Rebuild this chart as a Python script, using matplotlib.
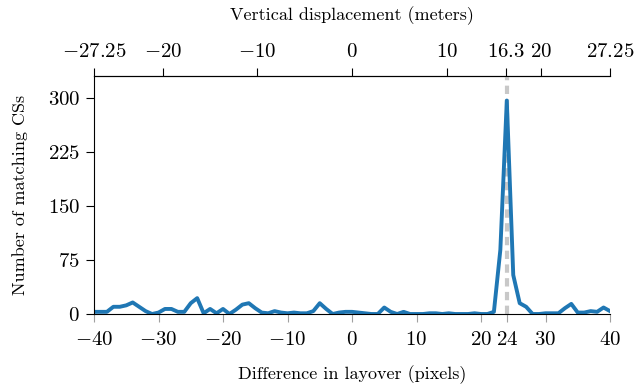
import numpy as np
import matplotlib
matplotlib.use('Agg')
import matplotlib.pyplot as plt

plt.rcParams['font.family'] = 'serif'
plt.rcParams['font.serif'] = ['cmr10']
plt.rcParams['mathtext.fontset'] = 'cm'
plt.rcParams['axes.unicode_minus'] = False

# layover difference in pixels, -40..40
offsets = list(range(-40, 41))
counts = [3, 3, 3, 10, 10, 12, 16, 10, 4, 0,
          2, 7, 7, 3, 3, 15, 22, 1, 7, 1,
          7, 0, 6, 13, 15, 8, 2, 1, 4, 2,
          1, 2, 1, 1, 4, 15, 7, 0, 2, 3,
          3, 2, 1, 0, 0, 9, 3, 0, 3, 0,
          0, 0, 1, 1, 0, 1, 0, 0, 0, 1,
          0, 0, 3, 89, 296, 54, 15, 10, 0, 0,
          1, 1, 1, 8, 14, 2, 2, 4, 3, 9,
          4]

peak = 24
x_ticks = [-40, -30, -20, -10, 0, 10, 20, 24, 30, 40]
y_ticks = [0, 75, 150, 225, 300]
top_ticks = [-27.25, -20, -10, 0, 10, 16.3, 20, 27.25]
scale = 27.25 / 40

fig = plt.figure(figsize=(6.36, 3.88), dpi=100)
ax = fig.add_axes([94/636, 1 - 314/388, 516/636, 238/388])

ax.axvline(peak, color='#c8c8c8', linestyle=(0, (2, 1.3)), linewidth=3, zorder=1)
ax.plot(offsets, counts, color='#1f77b4', linewidth=2.8, zorder=2)

ax.set_xlim(-40, 40)
ax.set_ylim(0, 330)
ax.set_xticks(x_ticks)
ax.set_xticklabels(['$%d$' % t for t in x_ticks], fontsize=15)
ax.set_yticks(y_ticks)
ax.set_yticklabels(['$%d$' % t for t in y_ticks], fontsize=15)
ax.set_xlabel('Difference in layover (pixels)', fontsize=13, labelpad=12)
ax.set_ylabel('Number of matching CSs', fontsize=13, labelpad=14)
ax.spines['right'].set_visible(False)
ax.tick_params(axis='x', direction='out', length=6, color='#a0a0a0', pad=6)
ax.tick_params(axis='y', direction='out', length=6, pad=4)

top = ax.secondary_xaxis('top', functions=(lambda v: v * scale, lambda v: v / scale))
top.set_xticks(top_ticks)
top.set_xticklabels(['$%g$' % t for t in top_ticks], fontsize=15)
top.set_xlabel('Vertical displacement (meters)', fontsize=13, labelpad=16)
top.tick_params(direction='out', length=6, pad=5)

plt.savefig('out.png', dpi=100)
